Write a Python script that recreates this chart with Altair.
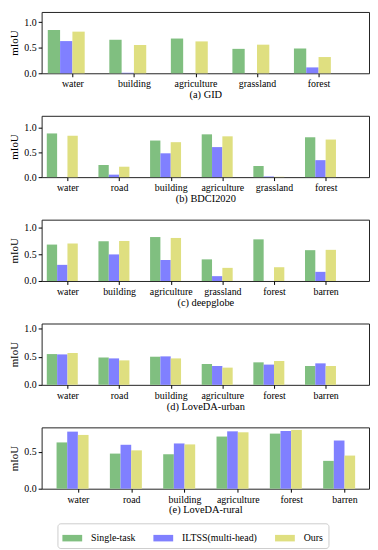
import json
import altair as alt
import pandas as pd

methods = ["Single-task", "ILTSS(multi-head)", "Ours"]
colors = ["#80bf80", "#8080ff", "#dfdf80"]

# (a) GID
gid_cats = ["water", "building", "agriculture", "grassland", "forest"]
gid_single = [0.847, 0.656, 0.680, 0.478, 0.484]
gid_iltss = [0.630, 0.010, 0.000, 0.000, 0.115]
gid_ours = [0.815, 0.554, 0.624, 0.560, 0.318]

# (b) BDCI2020
bdci_cats = ["water", "road", "building", "agriculture", "grassland", "forest"]
bdci_single = [0.880, 0.243, 0.737, 0.862, 0.224, 0.803]
bdci_iltss = [0.000, 0.050, 0.480, 0.605, 0.013, 0.342]
bdci_ours = [0.835, 0.210, 0.704, 0.822, 0.007, 0.757]

# (c) deepglobe
dg_cats = ["water", "building", "agriculture", "grassland", "forest", "barren"]
dg_single = [0.677, 0.738, 0.817, 0.402, 0.774, 0.573]
dg_iltss = [0.300, 0.494, 0.390, 0.090, 0.000, 0.170]
dg_ours = [0.695, 0.744, 0.800, 0.244, 0.256, 0.579]

# (d) LoveDA-urban
lu_cats = ["water", "road", "building", "agriculture", "forest", "barren"]
lu_single = [0.547, 0.488, 0.500, 0.370, 0.400, 0.335]
lu_iltss = [0.541, 0.470, 0.506, 0.335, 0.360, 0.382]
lu_ours = [0.565, 0.435, 0.470, 0.306, 0.424, 0.335]

# (e) LoveDA-rural
lr_cats = ["water", "road", "building", "agriculture", "forest", "barren"]
lr_single = [0.630, 0.478, 0.469, 0.710, 0.750, 0.379]
lr_iltss = [0.777, 0.598, 0.616, 0.781, 0.786, 0.656]
lr_ours = [0.732, 0.522, 0.603, 0.768, 0.800, 0.451]

panels = [
    ("(a) GID", gid_cats, [gid_single, gid_iltss, gid_ours], [-0.2, 5.12], 1.2, [0, 0.5, 1.0]),
    ("(b) BDCI2020", bdci_cats, [bdci_single, bdci_iltss, bdci_ours], [-0.2, 6.14], 1.235, [0, 0.5, 1.0]),
    ("(c) deepglobe", dg_cats, [dg_single, dg_iltss, dg_ours], [-0.2, 6.14], 1.14, [0, 0.5, 1.0]),
    ("(d) LoveDA-urban", lu_cats, [lu_single, lu_iltss, lu_ours], [-0.2, 6.14], 1.09, [0, 0.5, 1.0]),
    ("(e) LoveDA-rural", lr_cats, [lr_single, lr_iltss, lr_ours], [-0.38, 5.76], 0.835, [0, 0.5]),
]

BAR_W = 0.2
FONT = "Liberation Serif"

legend = alt.Legend(
    title=None, orient="none", direction="horizontal",
    legendX=16, legendY=517,
    symbolType="M-1,-0.33L1,-0.33L1,0.33L-1,0.33Z", symbolSize=400,
    symbolStrokeWidth=0, symbolOpacity=1,
    labelFont=FONT, labelFontSize=10, labelColor="black",
    labelOffset=9, columnPadding=18,
    strokeColor="#cccccc", fillColor="white", cornerRadius=3, padding=5,
)

charts = []
for title, cats, series, xdom, ymax, yticks in panels:
    rows = []
    for ci, c in enumerate(cats):
        for k, m in enumerate(methods):
            p = ci + BAR_W * k
            rows.append({"cat": c, "method": m, "value": series[k][ci],
                         "x0": p - BAR_W / 2, "x1": p + BAR_W / 2})
    df = pd.DataFrame(rows)
    expr = json.dumps(cats) + "[round(datum.value - 0.3)]"
    ch = alt.Chart(df).mark_bar().encode(
        x=alt.X("x0:Q",
                scale=alt.Scale(domain=xdom, nice=False, zero=False),
                axis=alt.Axis(values=[ci + 0.3 for ci in range(len(cats))],
                              labelExpr=expr, title=title, grid=False,
                              titlePadding=1, labelFont=FONT, titleFont=FONT,
                              titleFontWeight="normal")),
        x2="x1",
        y=alt.Y("value:Q",
                scale=alt.Scale(domain=[0, ymax], nice=False),
                axis=alt.Axis(values=yticks, format=".1f", title="mIoU",
                              grid=False, titlePadding=4, titleFontSize=11,
                              labelFont=FONT, titleFont=FONT,
                              titleFontWeight="normal")),
        y2=alt.datum(0),
        color=alt.Color("method:N", scale=alt.Scale(domain=methods, range=colors),
                        legend=legend),
    ).properties(width=331, height=62)
    charts.append(ch)

chart = alt.vconcat(*charts, spacing=14).properties(
    padding=0
).configure_view(
    stroke="#222222", strokeWidth=1
).configure_axis(
    labelFont=FONT, labelFontSize=10, labelColor="black",
    titleFont=FONT, titleFontSize=10.5, titleFontWeight="normal",
    titleColor="black", tickColor="black", tickSize=3.5, labelPadding=2,
    domain=False,
)

chart.save("out.html", embed_options={"renderer": "svg", "actions": False})
